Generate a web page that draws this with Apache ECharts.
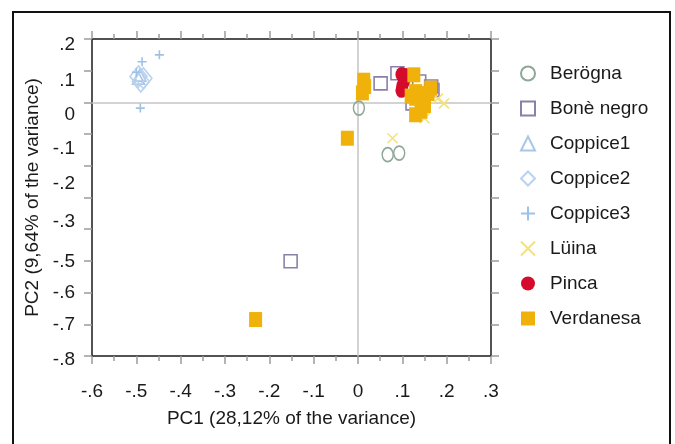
<!DOCTYPE html>
<html>
<head>
<meta charset="utf-8">
<script src="https://cdn.jsdelivr.net/npm/echarts@6/dist/echarts.min.js"></script>
<style>
html,body{margin:0;padding:0;background:#fff;}
#chart{width:675px;height:444px;}
</style>
</head>
<body>
<div id="chart"></div>
<script>
// ---- data ----
const seriesNames = ['Berögna', 'Bonè negro', 'Coppice1', 'Coppice2', 'Coppice3', 'Lüina', 'Pinca', 'Verdanesa'];
const beroegna = [[0.002, -0.018], [0.067, -0.165], [0.093, -0.160]];
const boneNegro = [[0.051, 0.060], [0.089, 0.092], [0.123, -0.003], [0.138, 0.066], [0.168, 0.039], [0.165, 0.050], [-0.152, -0.501]];
const coppice1 = [[-0.495, 0.076], [-0.492, 0.086]];
const coppice2 = [[-0.495, 0.082], [-0.484, 0.076], [-0.490, 0.066]];
const coppice3 = [[-0.448, 0.150], [-0.487, 0.128], [-0.491, -0.018], [-0.500, 0.095]];
const luina = [[0.194, -0.003], [0.078, -0.113], [0.180, 0.012], [0.150, -0.050]];
const pinca = [[0.098, 0.088], [0.108, 0.085], [0.104, 0.068], [0.100, 0.052], [0.098, 0.038]];
const verdanesa = [[0.013, 0.070], [0.015, 0.050], [0.010, 0.030], [-0.024, -0.113], [-0.231, -0.685],
  [0.126, 0.087], [0.130, 0.034], [0.164, 0.045], [0.142, -0.028], [0.130, 0.013], [0.130, -0.039],
  [0.150, -0.010], [0.158, 0.028], [0.120, 0.020]];

const xMin = -0.6, xMax = 0.3, xStep = 0.1;
const yMin = -0.8, yMax = 0.2, yStep = 0.1;
const xTickLabels = ['-.6', '-.5', '-.4', '-.3', '-.2', '-.1', '0', '.1', '.2', '.3'];
const yTickLabels = ['-.8', '-.7', '-.6', '-.5', '', '-.3', '-.2', '-.1', '0', '.1', '.2'];
const xTitle = 'PC1 (28,12% of the variance)';
const yTitle = 'PC2 (9,64% of the variance)';

// ---- styling ----
const FONT = '"Liberation Sans", Arial, sans-serif';
const TXT = '#1a1a1a';
const yLabelShift = {'.2': 6, '.1': 10, '0': 12, '-.1': 15, '-.2': 18, '-.3': 24, '-.5': 1, '-.6': 0, '-.7': 0, '-.8': 4};
const rich = {};
for (let s = 0; s <= 30; s++) {
  rich['s' + s] = {fontSize: 19, color: TXT, fontFamily: FONT, padding: [2 * s, 0, 0, 0]};
}

function xFmt(v) { const i = Math.round((v - xMin) / xStep); return xTickLabels[i] ?? ''; }
function yFmt(v) {
  const i = Math.round((v - yMin) / yStep);
  const t = yTickLabels[i] ?? '';
  if (!t) return '';
  return '{s' + (yLabelShift[t] || 0) + '|' + t + '}';
}

const tickStyle = {color: '#9c9c9c', width: 1.5};
const lineStyle = {color: '#1a1a1a', width: 1.5};

function xAxis(pos, labels) {
  return {
    type: 'value', position: pos, min: xMin, max: xMax, interval: xStep,
    axisLine: {show: true, onZero: false, lineStyle},
    axisTick: {show: true, inside: false, length: 8, lineStyle: tickStyle},
    minorTick: {show: true, splitNumber: 2, length: 5, lineStyle: tickStyle},
    splitLine: {show: false},
    axisLabel: labels ? {show: true, formatter: xFmt, margin: 26, fontSize: 19, color: TXT, fontFamily: FONT} : {show: false},
    name: labels ? xTitle : '', nameLocation: 'middle', nameGap: 53,
    nameTextStyle: {fontSize: 19, color: TXT, fontFamily: FONT}
  };
}
function yAxis(pos, labels) {
  return {
    type: 'value', position: pos, min: yMin, max: yMax, interval: yStep,
    axisLine: {show: true, onZero: false, lineStyle},
    axisTick: {show: true, inside: false, length: 8, lineStyle: tickStyle},
    splitLine: {show: false},
    axisLabel: labels ? {show: true, formatter: yFmt, margin: 17, rich, fontSize: 19, color: TXT, fontFamily: FONT} : {show: false},
    name: labels ? yTitle : '', nameLocation: 'middle', nameGap: 38, nameRotate: 90,
    nameTextStyle: {fontSize: 19, color: TXT, fontFamily: FONT}
  };
}

function hollow(c) { return {color: 'rgba(0,0,0,0)', borderColor: c, borderWidth: 1.6, opacity: 1}; }

const series = [
  {name: seriesNames[0], data: beroegna, symbol: 'circle', symbolSize: [11, 14], itemStyle: hollow('#8ea797'),
   markLine: {silent: true, symbol: 'none', label: {show: false}, lineStyle: {color: '#c4c4c4', width: 1.5, type: 'solid'},
     data: [{xAxis: 0}, {yAxis: 0}], z: 1}},
  {name: seriesNames[1], data: boneNegro, symbol: 'rect', symbolSize: 13, itemStyle: hollow('#8b80a9')},
  {name: seriesNames[2], data: coppice1, symbol: 'triangle', symbolSize: 12, itemStyle: hollow('#a6c7e8')},
  {name: seriesNames[3], data: coppice2, symbol: 'diamond', symbolSize: [17, 21], itemStyle: hollow('#b9d2ef')},
  {name: seriesNames[4], data: coppice3, symbol: 'path://M5,0L5,10M0,5L10,5', symbolSize: 9, itemStyle: hollow('#9cc3e6')},
  {name: seriesNames[5], data: luina, symbol: 'path://M0,0L10,10M10,0L0,10', symbolSize: 10, itemStyle: hollow('#f3e27a')},
  {name: seriesNames[6], data: pinca, symbol: 'circle', symbolSize: [12, 15], itemStyle: {color: '#d40b2b', opacity: 1}},
  {name: seriesNames[7], data: verdanesa, symbol: 'rect', symbolSize: [13, 15], itemStyle: {color: '#f0b20a', opacity: 1}}
].map(s => Object.assign({type: 'scatter', emphasis: {disabled: true}}, s));

const chart = echarts.init(document.getElementById('chart'), null, {renderer: 'canvas'});
chart.setOption({
  animation: false,
  backgroundColor: '#fff',
  textStyle: {fontFamily: FONT},
  grid: {left: 92, right: 184, top: 39, bottom: 88, containLabel: false},
  xAxis: [xAxis('bottom', true), xAxis('top', false)],
  yAxis: [yAxis('left', true), yAxis('right', false)],
  legend: {
    orient: 'vertical', left: 515, top: 59,
    itemWidth: 14, itemHeight: 14, itemGap: 16,
    data: seriesNames,
    textStyle: {fontSize: 19, color: TXT, fontFamily: FONT, padding: [0, 0, 0, 10]}
  },
  graphic: [{type: 'rect', silent: true, z: 100,
    shape: {x: 13, y: 12, width: 657, height: 460},
    style: {fill: 'none', stroke: '#111', lineWidth: 2}}],
  series
});
</script>
</body>
</html>
